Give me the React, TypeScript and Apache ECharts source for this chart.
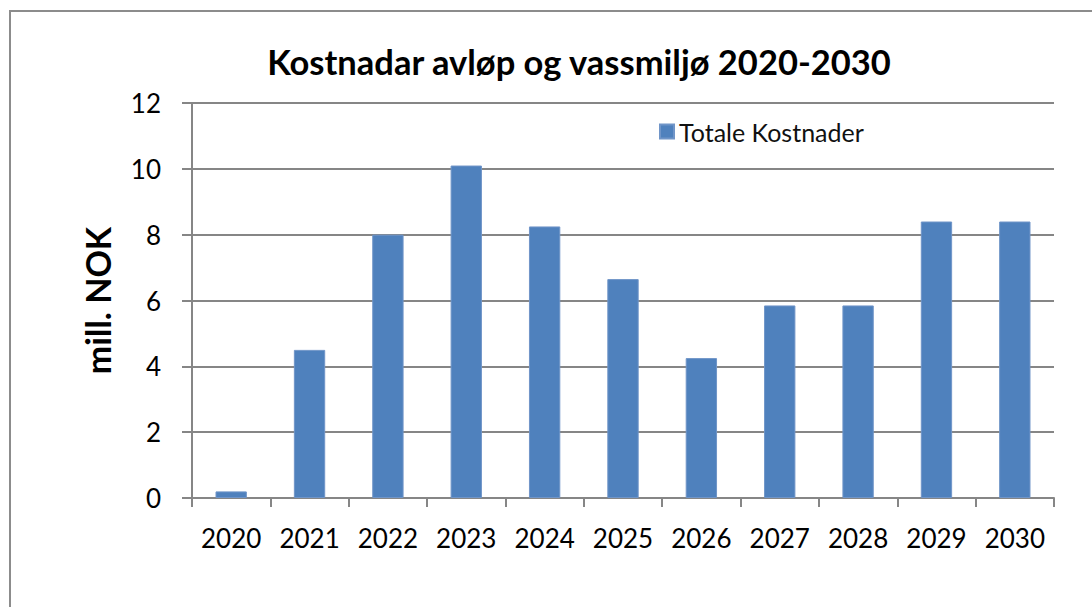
import React, { useEffect, useRef } from "react";
import * as echarts from "echarts";

const categories = ["2020", "2021", "2022", "2023", "2024", "2025", "2026", "2027", "2028", "2029", "2030"];
const totaleKostnader = [0.2, 4.5, 8.0, 10.1, 8.25, 6.65, 4.25, 5.85, 5.85, 8.4, 8.4];
const seriesName = "Totale Kostnader";
const titleText = "Kostnadar avløp og vassmiljø 2020-2030";
const yAxisName = "mill. NOK";

const FONT = "Lato, 'Open Sans', sans-serif";

export default function App() {
  const ref = useRef<HTMLDivElement>(null);
  useEffect(() => {
    if (!ref.current) return;
    const chart = echarts.init(ref.current, undefined, { renderer: "svg" });
    chart.setOption({
      animation: false,
      backgroundColor: "#ffffff",
      textStyle: { fontFamily: FONT },
      title: {
        text: titleText,
        left: 574,
        top: 39,
        textAlign: "center",
        textStyle: { fontFamily: FONT, fontSize: 34.5, fontWeight: "bold", color: "#000" },
      },
      legend: {
        data: [seriesName],
        left: 654,
        top: 114,
        icon: "rect",
        itemWidth: 14,
        itemHeight: 14,
        itemGap: 8,
        textStyle: { fontFamily: FONT, fontSize: 25, color: "#111" },
      },
      graphic: [
        {
          type: "rect",
          shape: { x: 10, y: 11, width: 1200, height: 700 },
          style: { fill: "none", stroke: "#8c8c8c", lineWidth: 2 },
          silent: true,
        },
      ],
      grid: { left: 192, right: 38, top: 103, bottom: 109 },
      xAxis: {
        type: "category",
        data: categories,
        boundaryGap: true,
        axisLine: { lineStyle: { color: "#868686", width: 2 } },
        axisTick: { show: true, length: 9, lineStyle: { color: "#868686", width: 2 } },
        axisLabel: { fontFamily: FONT, fontSize: 26, color: "#000", margin: 27, interval: 0 },
      },
      yAxis: {
        type: "value",
        min: 0,
        max: 12,
        interval: 2,
        name: yAxisName,
        nameLocation: "middle",
        nameGap: 78,
        nameRotate: 90,
        nameTextStyle: { fontFamily: FONT, fontSize: 34, fontWeight: "bold", color: "#000" },
        axisLine: { show: true, lineStyle: { color: "#868686", width: 2 } },
        axisTick: { show: true, length: 10, lineStyle: { color: "#868686", width: 2 } },
        axisLabel: { fontFamily: FONT, fontSize: 26, color: "#000", margin: 31 },
        splitLine: { show: true, lineStyle: { color: "#868686", width: 2 } },
      },
      series: [
        {
          name: seriesName,
          type: "bar",
          data: totaleKostnader,
          barWidth: "40%",
          itemStyle: { color: "#4F81BD", borderColor: "#7095c8", borderWidth: 1 },
        },
      ],
    });
    return () => chart.dispose();
  }, []);
  return (
    <div
      ref={ref}
      style={{ position: "fixed", left: 0, top: 0, width: 1092, height: 607 }}
    />
  );
}
